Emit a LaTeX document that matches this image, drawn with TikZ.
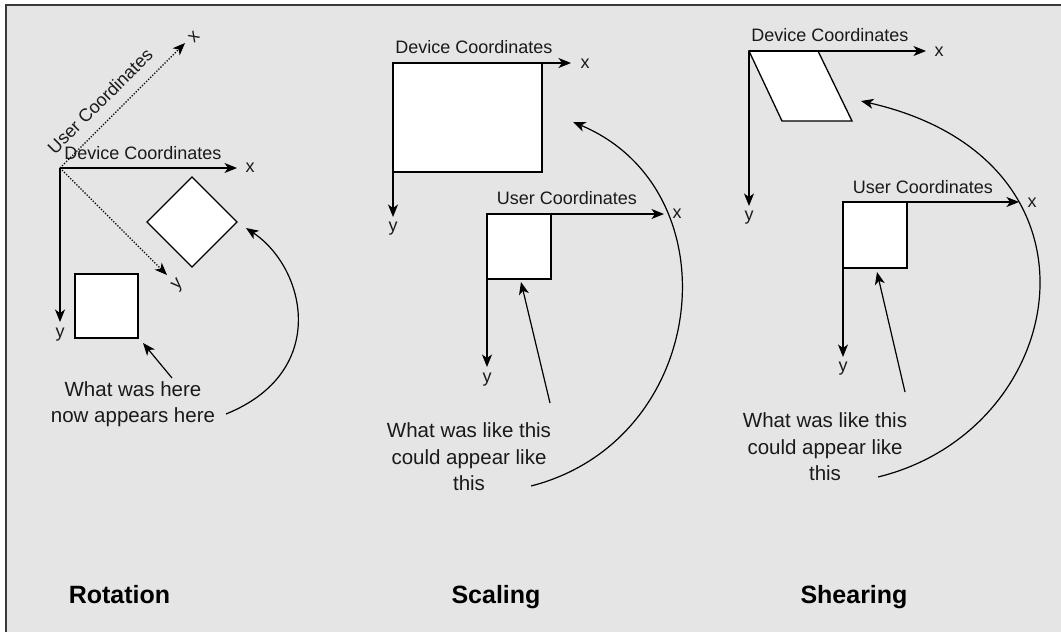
\documentclass[tikz,border=0pt]{standalone}
\usepackage{fontspec}
\setmainfont{Liberation Sans}
\usetikzlibrary{arrows.meta}
\definecolor{bg}{HTML}{E5E5E5}
\definecolor{frame}{HTML}{3A3A3A}
\definecolor{ink}{HTML}{1A1A1A}
\begin{document}
\begin{tikzpicture}[x=1pt,y=-1pt,
  tip/.style={-{Stealth[length=12.5pt,width=10pt,inset=3.5pt]}},
  axis/.style={line width=1.3pt, tip},
  usr/.style={line width=1.2pt, dash pattern=on 1.3pt off 1.6pt, tip},
  pointer/.style={line width=1.2pt, tip},
  lbl/.style={font=\fontsize{18}{22}\selectfont, text=ink, inner sep=0pt},
  ann/.style={font=\fontsize{20.5}{26.5}\selectfont, text=ink, align=center, inner sep=0pt},
  ttl/.style={font=\fontsize{25}{30}\selectfont\bfseries, text=black, inner sep=0pt, anchor=base},
  box/.style={draw, line width=1.3pt, fill=white, line join=miter}
]
\useasboundingbox (0,0) rectangle (1061,632);
\fill[white] (0,0) rectangle (1061,632);
\fill[bg] (6,5) rectangle (1061,632);
\draw[frame, line width=2pt] (6,632) -- (6,5) -- (1061,5);

% ================= Rotation =================
\coordinate (rO) at (60,168);
\coordinate (rX) at (237,168);
\coordinate (rY) at (60,322);
\coordinate (ruX) at (185,43);
\coordinate (ruY) at (167,275);
\draw[box] (75,274) rectangle (138,338);
\draw[box] (192,177) -- (237,222) -- (192,267) -- (147,222) -- cycle;
\draw[axis] (rO) -- (rX);
\draw[axis] (rO) -- (rY);
\draw[usr] (rO) -- (ruX);
\draw[usr] (rO) -- (ruY);
\node[lbl] (rdc) at (143,153) {Device Coordinates};
\node[lbl] (rxl) at (250,168) {x};
\node[lbl] (ryl) at (60,335) {y};
\node[lbl, rotate=45] (ruc) at (100,101) {User Coordinates};
\node[lbl, rotate=45] (ruxl) at (194,37) {x};
\node[lbl, rotate=45] (ruyl) at (178,285) {y};
\node[ann] (rann) at (133,404) {What was here\\now appears here};
\coordinate (rp1) at (172,378);
\coordinate (rp2) at (143,343);
\draw[pointer] (rp1) -- (rp2);
\coordinate (rc1) at (226,414);
\coordinate (rc2) at (246,228);
\draw[pointer] (rc1) .. controls (330,372) and (306,268) .. (rc2);
\node[ttl] (rt) at (119.5,603) {Rotation};

% ================= Scaling =================
\coordinate (sO) at (393,63);
\coordinate (sX) at (571,63);
\coordinate (sY) at (393,217);
\draw[box] (393,63) rectangle (542,172);
\draw[axis] (sO) -- (sX);
\draw[axis] (sO) -- (sY);
\node[lbl] (sdc) at (474,47) {Device Coordinates};
\node[lbl] (sxl) at (585,64) {x};
\node[lbl] (syl) at (393,229) {y};
\coordinate (suO) at (487,214);
\coordinate (suX) at (664,214);
\coordinate (suY) at (487,367);
\draw[box] (487,214) rectangle (551,279);
\draw[axis] (suO) -- (suX);
\draw[axis] (suO) -- (suY);
\node[lbl] (suc) at (567,198) {User Coordinates};
\node[lbl] (suxl) at (677,214) {x};
\node[lbl] (suyl) at (487,380) {y};
\node[ann] (sann) at (469,457) {What was like this\\could appear like\\this};
\coordinate (sp1) at (550,403);
\coordinate (sp2) at (521,282);
\draw[pointer] (sp1) -- (sp2);
\coordinate (sc1) at (531,486);
\coordinate (sc2) at (573,122);
\draw[pointer] (sc1) .. controls (710,440) and (735,190) .. (sc2);
\node[ttl] (st) at (496,603) {Scaling};

% ================= Shearing =================
\coordinate (hO) at (749,51);
\coordinate (hX) at (926,51);
\coordinate (hY) at (749,206);
\draw[box] (749,51) -- (818,51) -- (852,121) -- (782,121) -- cycle;
\draw[axis] (hO) -- (hX);
\draw[axis] (hO) -- (hY);
\node[lbl] (hdc) at (830,35) {Device Coordinates};
\node[lbl] (hxl) at (939,52) {x};
\node[lbl] (hyl) at (749,218) {y};
\coordinate (huO) at (843,202);
\coordinate (huX) at (1019,202);
\coordinate (huY) at (843,357);
\draw[box] (843,202) rectangle (907,268);
\draw[axis] (huO) -- (huX);
\draw[axis] (huO) -- (huY);
\node[lbl] (huc) at (923,187) {User Coordinates};
\node[lbl] (huxl) at (1032,203) {x};
\node[lbl] (huyl) at (843,369) {y};
\node[ann] (hann) at (825,447) {What was like this\\could appear like\\this};
\coordinate (hp1) at (905,392);
\coordinate (hp2) at (877,272);
\draw[pointer] (hp1) -- (hp2);
\coordinate (hc1) at (878,477);
\coordinate (hc2) at (861,101);
\draw[pointer] (hc1) .. controls (1070,430) and (1120,160) .. (hc2);
\node[ttl] (ht) at (854,603) {Shearing};
\end{tikzpicture}
\end{document}
